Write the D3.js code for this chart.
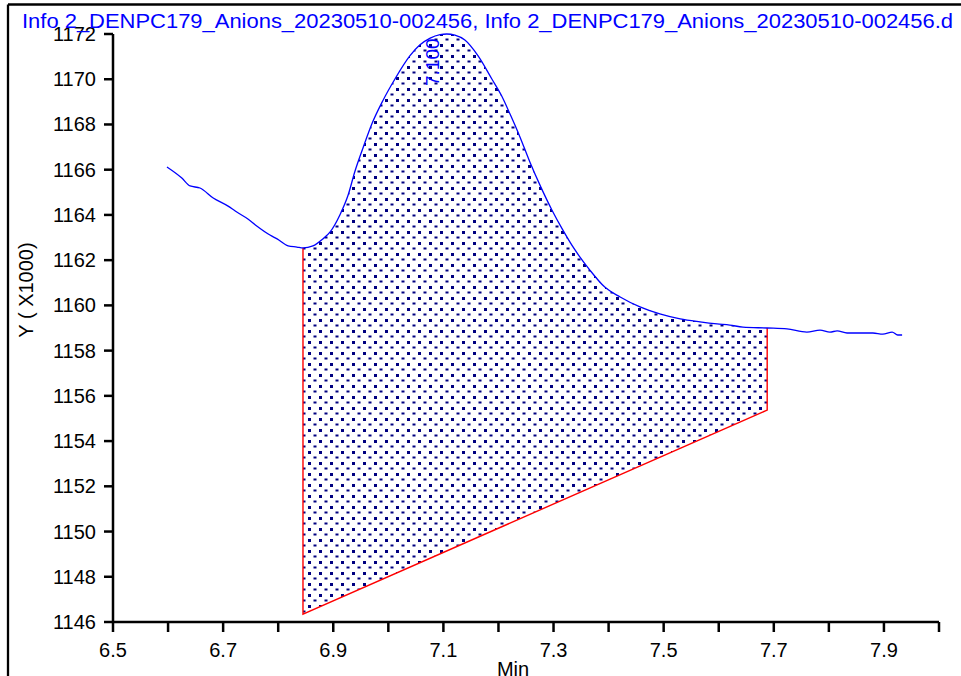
<!DOCTYPE html>
<html><head><meta charset="utf-8">
<script src="https://cdn.jsdelivr.net/npm/d3@7"></script>
<style>body{margin:0;background:#fff}svg{display:block}text{font-family:"Liberation Sans",Arial,sans-serif}</style>
</head><body>
<script>
const titleText = "Info 2_DENPC179_Anions_20230510-002456, Info 2_DENPC179_Anions_20230510-002456.d";
const times = [6.598,6.625,6.640,6.658,6.682,6.709,6.722,6.745,6.761,6.785,6.798,6.818,6.834,6.845,6.863,6.881,6.894,6.912,6.927,6.939,6.954,6.970,6.990,7.012,7.039,7.057,7.076,7.094,7.106,7.121,7.139,7.163,7.188,7.205,7.221,7.239,7.257,7.277,7.297,7.317,7.339,7.366,7.393,7.421,7.457,7.493,7.530,7.566,7.597,7.620,7.644,7.688,7.724,7.760,7.784,7.802,7.815,7.833,7.880,7.898,7.915,7.925,7.933];
const values = [1166.12,1165.63,1165.28,1165.19,1164.75,1164.39,1164.17,1163.82,1163.51,1163.11,1162.94,1162.63,1162.58,1162.54,1162.63,1162.94,1163.24,1164.00,1164.88,1165.90,1166.96,1168.02,1169.05,1170.01,1171.03,1171.51,1171.82,1171.97,1172.0,1171.95,1171.73,1171.03,1170.01,1169.30,1168.46,1167.45,1166.34,1165.23,1164.22,1163.33,1162.45,1161.56,1160.81,1160.37,1159.93,1159.62,1159.40,1159.27,1159.18,1159.13,1159.04,1159.00,1158.96,1158.82,1158.91,1158.82,1158.87,1158.78,1158.78,1158.73,1158.82,1158.69,1158.69];
const baselineTimes = [6.845, 7.688];
const baselineValues = [1146.35, 1155.37];
const peakTime = 7.100;
const peakLabel = "7.100";
const xTicks = [6.5,6.6,6.7,6.8,6.9,7.0,7.1,7.2,7.3,7.4,7.5,7.6,7.7,7.8,7.9,8.0];
const xLabels = [6.5,6.7,6.9,7.1,7.3,7.5,7.7,7.9];
const yTicks = [1146,1148,1150,1152,1154,1156,1158,1160,1162,1164,1166,1168,1170,1172];

const W=961,H=676;
const svg=d3.select("body").append("svg").attr("width",W).attr("height",H);
const x=d3.scaleLinear().domain([6.5,8.0]).range([113,939]);
const y=d3.scaleLinear().domain([1146,1172]).range([622,34]);

const defs=svg.append("defs");
const pat=defs.append("pattern").attr("id","dots").attr("patternUnits","userSpaceOnUse")
  .attr("width",11).attr("height",11);
pat.append("rect").attr("x",0).attr("y",0).attr("width",3).attr("height",3).attr("fill","#000080");
pat.append("rect").attr("x",5.5).attr("y",5.5).attr("width",3).attr("height",2).attr("fill","#000080");

// frame
svg.append("line").attr("x1",8).attr("x2",W).attr("y1",4.5).attr("y2",4.5).attr("stroke","#000").attr("stroke-width",2.3);
svg.append("line").attr("x1",8).attr("x2",8).attr("y1",4.5).attr("y2",H).attr("stroke","#000").attr("stroke-width",2.3);

// integration area
const data=times.map((t,i)=>({t,v:values[i]}));
const base=d3.scaleLinear().domain(baselineTimes).range(baselineValues);
const inside=data.filter(d=>d.t>=baselineTimes[0]&&d.t<=baselineTimes[1]);
const area=d3.area().x(d=>x(d.t)).y1(d=>y(d.v)).y0(d=>y(base(d.t)));
svg.append("path").datum(inside).attr("d",area).attr("fill","url(#dots)");

// baseline red
const first=inside[0], last=inside[inside.length-1];
const redPts=[[first.t,first.v],[baselineTimes[0],baselineValues[0]],[baselineTimes[1],baselineValues[1]],[last.t,last.v]];
svg.append("path").attr("d",d3.line().x(d=>x(d[0])).y(d=>y(d[1]))(redPts))
  .attr("fill","none").attr("stroke","#ff0000").attr("stroke-width",1.4);

// curve
svg.append("path").datum(data).attr("d",d3.line().x(d=>x(d.t)).y(d=>y(d.v)).curve(d3.curveMonotoneX))
  .attr("fill","none").attr("stroke","#0000ff").attr("stroke-width",1.3);

// axes
const ax=svg.append("g").attr("stroke","#000").attr("stroke-width",2.5);
ax.append("line").attr("x1",x(6.5)).attr("x2",x(8.0)).attr("y1",y(1146)).attr("y2",y(1146));
ax.append("line").attr("x1",x(6.5)).attr("x2",x(6.5)).attr("y1",y(1146)).attr("y2",y(1172));
ax.selectAll(".xt").data(xTicks).join("line").attr("x1",d=>x(d)).attr("x2",d=>x(d)).attr("y1",y(1146)).attr("y2",y(1146)+10);
ax.selectAll(".yt").data(yTicks).join("line").attr("x1",x(6.5)-9).attr("x2",x(6.5)).attr("y1",d=>y(d)).attr("y2",d=>y(d));

svg.selectAll(".xl").data(xLabels).join("text").attr("x",d=>x(d)).attr("y",657).attr("text-anchor","middle")
  .attr("font-size",20).text(d=>d3.format(".1f")(d));
svg.selectAll(".yl").data(yTicks).join("text").attr("x",96).attr("y",d=>y(d)+7).attr("text-anchor","end")
  .attr("font-size",20).text(d=>d);

svg.append("text").attr("transform","translate(33,290) rotate(-90)").attr("text-anchor","middle").attr("font-size",20).text("Y ( X1000)");
svg.append("text").attr("x",513).attr("y",676).attr("text-anchor","middle").attr("font-size",20).text("Min");

// title
const tt=svg.append("text").attr("x",22).attr("y",28).attr("font-size",20).attr("fill","#0000ff").text(titleText);
const tw=tt.node().getComputedTextLength();
if(Math.abs(tw-931)>4) tt.attr("textLength",931).attr("lengthAdjust","spacingAndGlyphs");

// peak label
svg.append("text").attr("transform",`translate(${x(peakTime)-4},86) rotate(-90)`).attr("font-size",19).attr("fill","#0000ff").text(peakLabel);
</script>
</body></html>
